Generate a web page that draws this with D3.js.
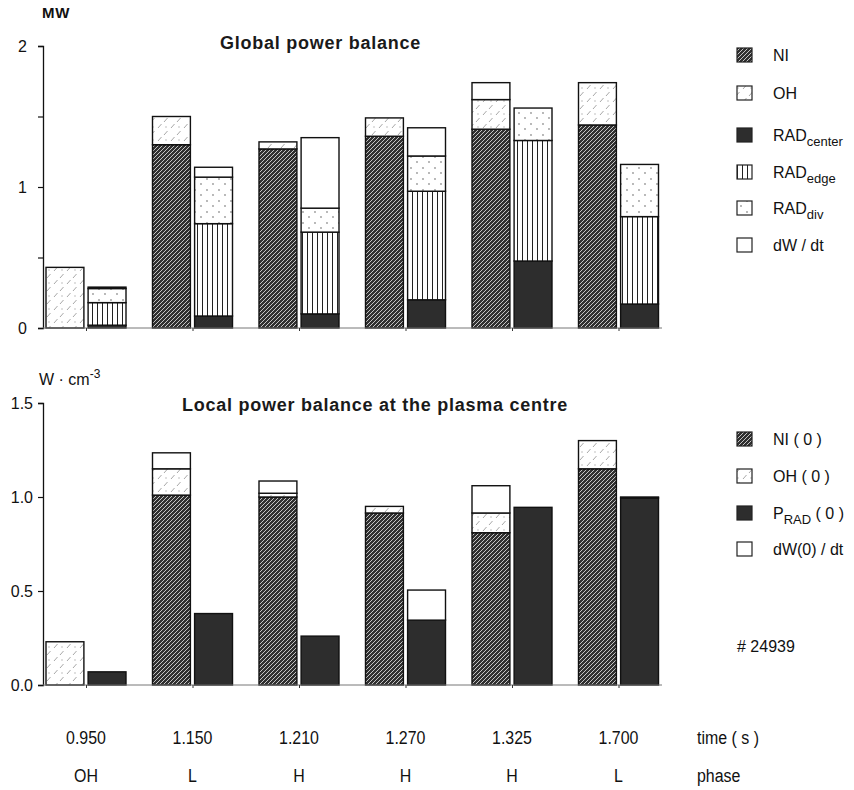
<!DOCTYPE html>
<html><head><meta charset="utf-8">
<script src="https://cdn.jsdelivr.net/npm/d3@7"></script>
<style>
html,body{margin:0;padding:0;background:#fff;}
svg{display:block;font-family:"Liberation Sans",Arial,Helvetica,sans-serif;}
</style></head>
<body>
<svg id="c" width="854" height="790"></svg>
<script>
// ---------- data ----------
const times = ["0.950","1.150","1.210","1.270","1.325","1.700"];
const phases = ["OH","L","H","H","H","L"];
// Global power balance (MW) – left bar of each pair
const globalNI  = [0, 1.30, 1.27, 1.36, 1.41, 1.44];
const globalOH  = [0.43, 0.20, 0.05, 0.13, 0.21, 0.30];
const globalDW1 = [0, 0, 0, 0, 0.12, 0];
// Global power balance (MW) – right bar of each pair
const radCenter = [0.02, 0.085, 0.10, 0.20, 0.475, 0.17];
const radEdge   = [0.16, 0.655, 0.58, 0.77, 0.855, 0.62];
const radDiv    = [0.10, 0.33, 0.17, 0.25, 0.23, 0.37];
const globalDW2 = [0.01, 0.07, 0.50, 0.20, 0, 0];
// Local power balance at the plasma centre (W·cm^-3)
const localNI   = [0, 1.01, 1.00, 0.915, 0.81, 1.15];
const localOH   = [0.23, 0.14, 0.02, 0.035, 0.105, 0.15];
const localDW1  = [0, 0.085, 0.065, 0, 0.145, 0];
const localPRAD = [0.07, 0.38, 0.26, 0.345, 0.945, 0.995];
const localDW2  = [0, 0, 0, 0.16, 0, 0.005];
const globalTicks = [0, 0.5, 1, 1.5, 2];
const localTicks = [0, 0.5, 1.0, 1.5];

// ---------- setup ----------
const svg = d3.select("#c");
const defs = svg.append("defs");

function pat(id, w, h, bg, draw) {
  const p = defs.append("pattern").attr("id", id).attr("patternUnits", "userSpaceOnUse")
    .attr("width", w).attr("height", h);
  p.append("rect").attr("width", w).attr("height", h).attr("fill", bg);
  draw(p);
}
pat("pNI", 4, 4, "#303030", p => {
  p.append("path").attr("d", "M-1,5 L5,-1 M-1,1 L1,-1 M3,5 L5,3").attr("stroke", "#c4c4c4").attr("stroke-width", 1);
});
pat("pOH", 13, 13, "#fff", p => {
  p.append("path").attr("d", "M2,11 L5.5,7 M8,5 L11.5,1").attr("stroke", "#a8a8a8").attr("stroke-width", 1);
  p.append("circle").attr("cx", 10).attr("cy", 10).attr("r", 0.7).attr("fill", "#aaa");
});
pat("pEdge", 5, 10, "#fff", p => {
  p.append("line").attr("x1", 2.5).attr("x2", 2.5).attr("y1", 0).attr("y2", 10).attr("stroke", "#222").attr("stroke-width", 1);
});
pat("pDiv", 12, 11, "#fff", p => {
  p.append("circle").attr("cx", 3).attr("cy", 3).attr("r", 0.9).attr("fill", "#999");
  p.append("circle").attr("cx", 9).attr("cy", 8).attr("r", 0.9).attr("fill", "#999");
});

const fills = {
  NI: "url(#pNI)", OH: "url(#pOH)", RADc: "#2d2d2d", RADe: "url(#pEdge)",
  RADd: "url(#pDiv)", dW: "#fff"
};

const x = d3.scalePoint().domain(times).range([86, 618.5]);
const sub = d3.scaleBand().domain(["a", "b"]).range([-40, 40]).paddingInner(0.1);

function panel(y, bars) {
  const g = svg.append("g");
  bars.forEach(b => {
    const rows = times.map((t, i) => {
      const o = { t };
      b.series.forEach(s => o[s.key] = s.values[i]);
      return o;
    });
    const stack = d3.stack().keys(b.series.map(s => s.key))(rows);
    stack.forEach((layer, li) => {
      const s = b.series[li];
      g.selectAll(null).data(layer.filter(d => d[1] - d[0] > 0)).join("rect")
        .attr("x", d => x(d.data.t) + sub(b.id))
        .attr("width", sub.bandwidth())
        .attr("y", d => y(d[1]))
        .attr("height", d => y(d[0]) - y(d[1]))
        .attr("fill", s.fill)
        .attr("stroke", "#111").attr("stroke-width", 1.4);
    });
  });
}

function axes(y, ticks, fmt, labelX) {
  const ax = svg.append("g").attr("transform", "translate(43,0)")
    .call(d3.axisLeft(y).tickValues(ticks).tickSize(5).tickFormat(fmt));
  ax.select(".domain").attr("stroke", "#111").attr("stroke-width", 1.3);
  ax.selectAll(".tick line").attr("stroke", "#111").attr("stroke-width", 1.2);
  ax.selectAll(".tick text").attr("x", labelX).attr("font-size", 16)
    .attr("font-family", "Liberation Sans, Arial, sans-serif").attr("fill", "#111");
  svg.append("line").attr("x1", 43).attr("x2", 662).attr("y1", y(0)).attr("y2", y(0))
    .attr("stroke", "#777").attr("stroke-width", 1);
  const xb = svg.append("g").attr("transform", `translate(0,${y(0)})`)
    .call(d3.axisBottom(x).tickSize(3).tickFormat(""));
  xb.select(".domain").remove();
  xb.selectAll(".tick line").attr("stroke", "#333");
}

// ---------- top panel ----------
const yG = d3.scaleLinear().domain([0, 2]).range([328, 46]);
panel(yG, [
  { id: "a", series: [
    { key: "NI", values: globalNI, fill: fills.NI },
    { key: "OH", values: globalOH, fill: fills.OH },
    { key: "dW", values: globalDW1, fill: fills.dW }]},
  { id: "b", series: [
    { key: "RADc", values: radCenter, fill: fills.RADc },
    { key: "RADe", values: radEdge, fill: fills.RADe },
    { key: "RADd", values: radDiv, fill: fills.RADd },
    { key: "dW", values: globalDW2, fill: fills.dW }]}
]);
axes(yG, globalTicks, d => Number.isInteger(d) ? d : "", -16);

svg.append("text").attr("x", 42).attr("y", 18).attr("font-size", 15).attr("font-weight", "bold")
  .attr("letter-spacing", 0.8).attr("fill", "#111").text("MW");
svg.append("text").attr("x", 220).attr("y", 49).attr("font-size", 18).attr("font-weight", "bold")
  .attr("letter-spacing", 0.75).attr("fill", "#1a1a1a").text("Global power balance");

// ---------- bottom panel ----------
const yL = d3.scaleLinear().domain([0, 1.5]).range([685, 403]);
panel(yL, [
  { id: "a", series: [
    { key: "NI", values: localNI, fill: fills.NI },
    { key: "OH", values: localOH, fill: fills.OH },
    { key: "dW", values: localDW1, fill: fills.dW }]},
  { id: "b", series: [
    { key: "P", values: localPRAD, fill: fills.RADc },
    { key: "dW", values: localDW2, fill: fills.dW }]}
]);
axes(yL, localTicks, d3.format(".1f"), -10);

const u = svg.append("text").attr("x", 39).attr("y", 385).attr("font-size", 16).attr("fill", "#111");
u.append("tspan").text("W · cm");
u.append("tspan").attr("dy", -7).attr("font-size", 12).text("-3");
svg.append("text").attr("x", 182).attr("y", 411).attr("font-size", 18).attr("font-weight", "bold")
  .attr("letter-spacing", 0.75).attr("fill", "#1a1a1a").text("Local power balance at the plasma centre");

// ---------- legends ----------
function legend(items, lx, tx) {
  items.forEach(it => {
    svg.append("rect").attr("x", lx).attr("y", it.y - 7).attr("width", 15).attr("height", 14)
      .attr("fill", it.fill).attr("stroke", "#222").attr("stroke-width", 1.2);
    const t = svg.append("text").attr("x", tx).attr("y", it.y + 6).attr("font-size", 16).attr("fill", "#111");
    t.append("tspan").text(it.main);
    if (it.sub) t.append("tspan").attr("dy", 5).attr("font-size", 13).text(it.sub);
    if (it.after) t.append("tspan").attr("dy", -5).text(it.after);
  });
}
legend([
  { y: 55, fill: fills.NI, main: "NI" },
  { y: 93, fill: fills.OH, main: "OH" },
  { y: 135, fill: fills.RADc, main: "RAD", sub: "center" },
  { y: 172, fill: fills.RADe, main: "RAD", sub: "edge" },
  { y: 208, fill: fills.RADd, main: "RAD", sub: "div" },
  { y: 245, fill: fills.dW, main: "dW / dt" }
], 737, 773);
legend([
  { y: 439, fill: fills.NI, main: "NI ( 0 )" },
  { y: 476, fill: fills.OH, main: "OH ( 0 )" },
  { y: 513, fill: fills.RADc, main: "P", sub: "RAD", after: " ( 0 )" },
  { y: 549, fill: fills.dW, main: "dW(0) / dt" }
], 737, 773);

svg.append("text").attr("x", 737).attr("y", 652).attr("font-size", 16).attr("fill", "#111").text("# 24939");

// ---------- time / phase rows (condensed) ----------
function narrowText(tx, ty, str, anchor) {
  svg.append("text").attr("transform", `translate(${tx},${ty}) scale(0.84,1)`)
    .attr("text-anchor", anchor).attr("font-size", 19).attr("fill", "#111").text(str);
}
times.forEach((t, i) => {
  narrowText(x(t), 744, t, "middle");
  narrowText(x(t), 782, phases[i], "middle");
});
narrowText(697, 744, "time ( s )", "start");
narrowText(697, 782, "phase", "start");
</script>
</body></html>
